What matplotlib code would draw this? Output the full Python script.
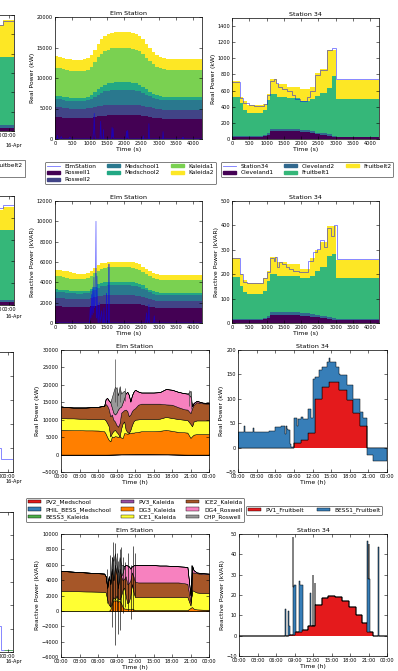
import numpy as np
import matplotlib
matplotlib.use("Agg")
import matplotlib.pyplot as plt
from matplotlib.lines import Line2D
from matplotlib.patches import Patch, Rectangle

W, H = 398, 671

# ---------------- feeder data, time in seconds (100 s bins) ----------------
sec_edges = np.arange(0, 4400, 100)

roswell1_p = [3600, 3550, 3500, 3450, 3400, 3400, 3400, 3400, 3400, 3450,
              3500, 3600, 3700, 3800, 3850, 3900, 3950, 4000, 4000, 4000,
              4000, 4000, 4000, 3950, 3900, 3800, 3700, 3600, 3500, 3420,
              3380, 3350, 3350, 3350, 3350, 3350, 3350, 3350, 3350, 3350,
              3350, 3350, 3350]
roswell2_p = [1650, 1650, 1620, 1600, 1580, 1570, 1560, 1560, 1560, 1570,
              1600, 1620, 1640, 1650, 1650, 1650, 1650, 1650, 1650, 1650,
              1650, 1650, 1650, 1650, 1640, 1620, 1600, 1570, 1540, 1510,
              1480, 1460, 1450, 1450, 1450, 1450, 1450, 1450, 1450, 1450,
              1450, 1450, 1450]
medschool1_p = [1300, 1300, 1280, 1260, 1250, 1250, 1250, 1260, 1280, 1320,
                1450, 1700, 1950, 2150, 2300, 2400, 2450, 2450, 2450, 2450,
                2450, 2450, 2400, 2350, 2250, 2100, 1950, 1800, 1700, 1620,
                1570, 1550, 1540, 1540, 1540, 1540, 1540, 1540, 1540, 1540,
                1540, 1540, 1540]
medschool2_p = [550, 550, 540, 530, 520, 520, 520, 530, 540, 560,
                620, 750, 900, 1000, 1100, 1150, 1200, 1200, 1200, 1200,
                1200, 1200, 1180, 1150, 1100, 1000, 900, 800, 700, 620,
                580, 560, 560, 560, 560, 560, 560, 560, 560, 560,
                560, 560, 560]
kaleida1_p = [4540, 4520, 4500, 4480, 4450, 4430, 4420, 4420, 4430, 4450,
              4600, 4900, 5200, 5400, 5500, 5550, 5600, 5600, 5600, 5600,
              5600, 5600, 5580, 5550, 5500, 5400, 5200, 5000, 4800, 4650,
              4550, 4480, 4460, 4460, 4460, 4460, 4460, 4460, 4460, 4460,
              4460, 4460, 4460]
kaleida2_p = [1900, 1900, 1880, 1860, 1850, 1850, 1850, 1850, 1860, 1880,
              1950, 2100, 2250, 2350, 2450, 2500, 2550, 2600, 2600, 2600,
              2600, 2600, 2580, 2550, 2500, 2400, 2300, 2150, 2000, 1900,
              1850, 1820, 1810, 1810, 1810, 1810, 1810, 1810, 1810, 1810,
              1810, 1810, 1810]

roswell1_q = [1640, 1630, 1610, 1590, 1570, 1560, 1550, 1550, 1560, 1580,
              1640, 1720, 1800, 1850, 1880, 1900, 1900, 1900, 1900, 1900,
              1900, 1900, 1890, 1870, 1840, 1780, 1700, 1620, 1550, 1510,
              1490, 1480, 1480, 1480, 1480, 1480, 1480, 1480, 1480, 1480,
              1480, 1480, 1480]
roswell2_q = [830, 830, 820, 810, 800, 790, 780, 780, 780, 790,
              810, 820, 830, 830, 830, 830, 830, 830, 830, 830,
              830, 830, 830, 820, 800, 770, 740, 710, 690, 670,
              660, 660, 660, 660, 660, 660, 660, 660, 660, 660,
              660, 660, 660]
medschool1_q = [590, 590, 580, 570, 560, 560, 560, 560, 570, 590,
                650, 750, 850, 920, 950, 970, 970, 970, 970, 970,
                970, 970, 960, 940, 900, 840, 760, 690, 640, 610,
                595, 590, 590, 590, 590, 590, 590, 590, 590, 590,
                590, 590, 590]
medschool2_q = [240, 240, 235, 230, 225, 220, 220, 220, 225, 235,
                260, 290, 320, 340, 350, 350, 350, 350, 350, 350,
                350, 350, 345, 340, 330, 310, 290, 270, 250, 240,
                235, 230, 230, 230, 230, 230, 230, 230, 230, 230,
                230, 230, 230]
kaleida1_q = [1300, 1290, 1270, 1250, 1220, 1200, 1190, 1180, 1180, 1190,
              1230, 1300, 1360, 1390, 1400, 1410, 1410, 1410, 1410, 1410,
              1410, 1410, 1400, 1390, 1370, 1340, 1310, 1290, 1270, 1260,
              1250, 1250, 1250, 1250, 1250, 1250, 1250, 1250, 1250, 1250,
              1250, 1250, 1250]
kaleida2_q = [660, 655, 640, 620, 600, 580, 560, 550, 550, 555,
              570, 560, 540, 530, 530, 530, 530, 530, 530, 530,
              530, 530, 530, 530, 520, 510, 500, 495, 490, 490,
              490, 490, 490, 490, 490, 490, 490, 490, 490, 490,
              490, 490, 490]

elm_p_line_t = [0, 50, 70, 90, 150, 180, 200, 230, 400, 430,
                460, 1090, 1120, 1136, 1150, 1170, 1300, 1320, 1335, 1350,
                1390, 1400, 1410, 1630, 1650, 1665, 1680, 1695, 1710, 2050,
                2070, 2085, 2100, 2115, 2130, 2540, 2555, 2570, 2700, 2715,
                2730, 3110, 3125, 3140, 3690, 3700, 3710, 4250]
elm_p_line = [0, 0, 600, 0, 0, 400, 100, 0, 0, 300,
              0, 0, 1500, 4200, 800, 0, 0, 2900, 600, 0,
              0, 1500, 0, 0, 1900, 300, 1700, 200, 0, 0,
              1300, 200, 1400, 300, 0, 0, 500, 0, 0, 2500,
              0, 0, 1200, 0, 0, 300, 0, 0]
elm_q_line_t = [0, 1000, 1020, 1040, 1060, 1075, 1090, 1110, 1125, 1140,
                1160, 1185, 1200, 1215, 1230, 1250, 1280, 1300, 1350, 1370,
                1400, 1415, 1430, 1480, 1490, 1500, 1550, 1560, 1570, 2620,
                2650, 2670, 2700, 2715, 2730, 2850, 2870, 2890, 4250]
elm_q_line = [0, 0, 1500, 500, 2800, 800, 3500, 1000, 4500, 1500,
              2000, 10000, 500, 4600, 1000, 0, 2000, 0, 1200, 0,
              0, 1500, 0, 0, 2900, 0, 0, 5800, 0, 0,
              1000, 0, 300, 1800, 0, 0, 700, 0, 0]

s34_edges = [0, 220, 316, 430, 900, 1007, 1103, 1300, 1580, 1966, 2254, 2398,
             2541, 2733, 2877, 3021, 4300]
cleveland1_p = [25, 25, 25, 27, 35, 55, 95, 95, 95, 90, 75, 60, 50, 40, 30, 22]
cleveland2_p = [10, 10, 10, 8, 10, 15, 25, 25, 25, 25, 20, 20, 20, 20, 10, 8]
fruitbelt1_p = [485, 410, 325, 285, 315, 415, 440, 400, 385, 355, 400, 447, 500, 570, 740, 470]
fruitbelt2_p = [205, 75, 110, 105, 80, 75, 180, 160, 135, 145, 145, 293, 300, 470, 320, 230]
cleveland1_q = [13, 13, 13, 13, 15, 22, 31, 31, 31, 30, 26, 24, 20, 16, 14, 13]
cleveland2_q = [5, 5, 5, 5, 5, 8, 14, 14, 14, 12, 9, 7, 8, 9, 6, 3]
fruitbelt1_q = [172, 132, 108, 102, 113, 144, 155, 147, 147, 143, 159, 184, 203, 251, 263, 167]
fruitbelt2_q = [75, 50, 51, 43, 52, 41, 70, 58, 48, 37, 72, 85, 99, 122, 115, 75]

s34_p_line_edges = [0, 220, 316, 480, 623, 911, 1007, 1103, 1218, 1275, 1343, 1439,
                    1582, 1726, 1822, 1966, 2062, 2158, 2254, 2398, 2541, 2733,
                    2877, 3021, 4300]
s34_p_line = [710, 510, 450, 420, 415, 440, 540, 720, 740, 700, 640, 620,
              600, 540, 500, 470, 470, 520, 600, 790, 850, 1100, 1130, 740]
s34_q_line_edges = [0, 220, 316, 430, 900, 1000, 1100, 1200, 1250, 1300, 1350,
                    1450, 1550, 1650, 1750, 1950, 2200, 2350, 2450, 2550, 2650,
                    2750, 2850, 2950, 3050, 4300]
s34_q_line = [268, 200, 170, 163, 185, 210, 268, 255, 272, 230, 248, 240,
              230, 222, 215, 210, 255, 290, 305, 340, 310, 390, 355, 400, 262]

# ---------------- generator data, time of day in hours ----------------
hours = [0, 1, 2, 3, 4, 5, 6, 7, 7.25, 7.5, 7.75, 8, 8.25, 8.5, 8.75, 9, 9.25,
         9.5, 9.75, 10, 10.25, 10.5, 10.75, 11, 11.25, 11.5, 11.75, 12, 12.5,
         13, 14, 15, 16, 17, 18, 19, 20, 20.5, 21, 21.25, 21.5, 22, 23, 24]

pv2_p = [0, 0, 0, 0, 0, 0, 0, 0, 0, 5, 10, 20, 30, 40, 50, 60, 70, 80, 90, 100,
         110, 120, 120, 130, 130, 140, 140, 150, 150, 150, 150, 140, 120, 100,
         70, 40, 10, 0, 0, 0, 0, 0, 0, 0]
phil_bess_p = [0, 0, 0, 0, 0, 0, 0, 0, 0, 0, 0, 0, 0, 0, 0, 0, 0, 0, 0, 0,
               0, 0, 0, 0, 0, 0, 0, 0, 0, 0, 0, 0, 0, 0, 0, 0, 0, 0, 0, 0,
               0, 0, 0, 0]
bess3_p = [0, 0, 0, 0, 0, 0, 0, 0, 0, 0, 0, 0, 0, 0, 0, 0, 0, 0, 0, 0,
           0, 0, 0, 0, 0, 0, 0, 0, 0, 0, 0, 0, 0, 0, 0, 0, 0, 0, 0, 0,
           0, 0, 0, 0]
pv3_p = [0, 0, 0, 0, 0, 0, 0, 0, 0, 0, 5, 10, 15, 20, 25, 30, 35, 40, 45, 50,
         55, 60, 60, 65, 65, 70, 70, 75, 75, 75, 75, 70, 60, 50, 35, 20, 5, 0,
         0, 0, 0, 0, 0, 0]
dg3_p_top = [7100, 7050, 7000, 7000, 6950, 6950, 6900, 6700, 6000, 5000, 4200,
             3800, 5200, 5000, 5300, 5200, 5100, 5200, 4900, 4800, 6200, 6100,
             6000, 6100, 6200, 6300, 6300, 6400, 6500, 6700, 6700, 6700, 6800,
             7100, 6800, 6500, 6400, 6300, 4800, 5300, 5700, 5900, 5900, 5900]
ice1_p_top = [10500, 10400, 10400, 10300, 10300, 10200, 10200, 10200, 9800, 9000,
              8100, 5200, 6200, 6800, 7100, 6500, 6000, 5200, 7500, 9000, 9500,
              7100, 6500, 6200, 7100, 8500, 9500, 10000, 10100, 10200, 10200,
              10200, 10300, 10800, 10500, 10200, 10000, 9900, 8800, 8100, 9500,
              9800, 9800, 9800]
ice2_p_top = [13800, 13600, 13500, 13500, 13500, 13600, 13700, 14000, 14500, 14000,
              13000, 11000, 11500, 10000, 9500, 8500, 8000, 9000, 12000, 12400,
              12800, 12900, 12500, 11000, 11500, 12500, 13000, 13300, 14300, 14600,
              14600, 14600, 14600, 14400, 14300, 13600, 13000, 12900, 11900, 13300,
              14300, 15000, 14700, 14600]
dg4_p_top = [13800, 13600, 13500, 13500, 13500, 13600, 13700, 14000, 16000, 16200,
             15500, 15000, 13500, 12000, 11500, 12000, 13000, 13500, 13800, 15000,
             16200, 17600, 18000, 17100, 15200, 17000, 18000, 18600, 18100, 17800,
             17800, 17800, 17900, 18800, 18600, 18000, 17600, 17500, 16700, 13800,
             14800, 15400, 14900, 14800]
chp_p_top = [13800, 13600, 13500, 13500, 13500, 13600, 13700, 14000, 16000, 16200,
             15500, 15000, 16500, 18000, 19500, 19000, 17000, 19500, 17500, 18000,
             18300, 17600, 18000, 17100, 15200, 17000, 18000, 18600, 18100, 17800,
             17800, 17800, 17900, 18800, 18600, 18000, 17600, 17500, 18300, 13800,
             14800, 15400, 14900, 14800]
elm_p_spike_h = [8.7, 9.05, 9.6, 10.3, 20.8, 21.0]
elm_p_spike_lo = [15000, 14000, 15000, 15500, 14000, 13000]
elm_p_spike_hi = [27500, 19500, 19800, 19000, 18500, 18300]

pv2_q = [0, 0, 0, 0, 0, 0, 0, 0, 0, 0, 0, 0, 0, 0, 0, 0, 0, 0, 0, 0,
         0, 0, 0, 0, 0, 0, 0, 0, 0, 0, 0, 0, 0, 0, 0, 0, 0, 0, 0, 0,
         0, 0, 0, 0]
phil_bess_q = pv2_q
bess3_q = pv2_q
pv3_q = pv2_q
dg3_q_top = [0, 0, 0, 0, 0, 0, 0, 0, 0, 0, 0, 200, 1000, 1400, 1300, 1400, 1200,
             1300, 1000, 500, 300, 300, 250, 250, 200, 300, 200, 100, 100, 100,
             100, 100, 100, 100, 100, 100, 100, 100, 400, 500, 300, 200, 150, 150]
ice1_q_top = [2600, 2580, 2560, 2550, 2530, 2520, 2500, 2480, 2400, 1500, 800,
              600, 1400, 1800, 1500, 2000, 1600, 1500, 2000, 2800, 3000, 2000,
              1000, 1200, 2000, 3500, 2500, 1800, 1800, 1800, 1800, 1800, 1800,
              1800, 1800, 1800, 1800, 1800, 700, 2700, 2600, 2400, 2300, 2300]
ice2_q_top = [5200, 5150, 5100, 5050, 5000, 4950, 4900, 4850, 4500, 3000, 4500,
              3500, 5500, 4000, 6000, 5000, 3000, 5500, 4500, 4000, 4200, 4500,
              3500, 3600, 4000, 5000, 4500, 3800, 3700, 3700, 3700, 3700, 3700,
              3700, 3700, 3700, 3600, 3500, 1200, 5000, 5000, 4900, 4800, 4800]
dg4_q_top = [5200, 5150, 5100, 5050, 5000, 4950, 4900, 4850, 4500, 3000, 4500,
             3500, 5500, 4000, 6000, 5000, 3000, 5500, 4500, 5000, 5800, 6000,
             5900, 5800, 5500, 5800, 5900, 6000, 6000, 6000, 6000, 5950, 5900,
             5900, 5850, 5800, 5750, 5700, 2000, 5900, 5300, 5000, 4900, 4850]
chp_q_top = [5200, 5150, 5100, 5050, 5000, 4950, 4900, 4850, 4500, 3000, 4500,
             3500, 7000, 6500, 7500, 6000, 5000, 7000, 6000, 6000, 5800, 6000,
             5900, 5800, 5500, 5800, 5900, 6000, 6000, 6000, 6000, 5950, 5900,
             5900, 5850, 5800, 5750, 5700, 2000, 5900, 5300, 5000, 4900, 4850]
elm_q_spike_h = [7.45, 7.9, 8.3, 8.45, 8.7, 9.05, 9.3, 9.6, 9.75, 10.0, 10.3,
                 10.8, 11.4, 11.7, 12.05, 21.1, 21.3]
elm_q_spike_lo = [1000, 500, -2100, 0, -4500, 0, -3000, -2500, 0, -300, 500,
                  0, -1000, 0, 2000, 1000, 2000]
elm_q_spike_hi = [5500, 7300, 7000, 9000, 8800, 7500, 6500, 8000, 8300, 7000,
                  6400, 7500, 6000, 8500, 7500, 6000, 6000]

s34h_p_edges = [0, 1.0, 1.2, 2.4, 2.5, 5.0, 6.0, 7.0, 7.5, 7.7, 7.9, 8.0, 8.4,
                8.6, 9.0, 9.5, 9.7, 10.2, 10.5, 11.3, 11.8, 12.0, 12.4, 13.0,
                13.5, 14.4, 14.6, 14.8, 15.8, 16.2, 16.4, 17.5, 18.6, 19.7,
                20.2, 20.8, 21.7, 24]
pv1_p = [0, 0, 0, 0, 0, 0, 0, 0, 0, 0, 0, 0, 0, 0, 10, 10, 10, 15, 15, 30, 30,
         30, 100, 100, 125, 125, 134, 134, 134, 119, 119, 98, 71, 44, 44, 0, -1]
bess1_p_top = [32, 45, 31, 40, 31, 33, 42, 45, 28, 44, 38, 36, 8, 2, 60, 45, 58,
               62, 58, 80, 60, 140, 145, 160, 165, 175, 183, 175, 165, 150, 148,
               128, 100, 72, 60, -15, -27]

s34h_q_edges = [0, 7.5, 7.65, 8.0, 8.1, 8.2, 8.7, 8.8, 8.9, 9.0, 9.3, 9.8, 9.95,
                10.2, 10.3, 11.2, 11.5, 11.65, 11.95, 12.05, 12.3, 12.4, 13.4,
                14.5, 15.6, 16.7, 17.8, 18.9, 20.0, 20.8, 20.9, 21.0, 21.1,
                21.2, 21.3, 21.7, 22.6, 22.75, 24]
pv1_q = [0, 0, 0, 0, 0.5, 0.5, 0.5, 0.5, 0.5, 2, 2, 2, 2, 3, 3, 5, 5, 5, 5, 5,
         15, 15, 18.5, 19.5, 19, 17, 14, 10, 6, 2, 2, 2, 2, 2, 2, 0, 0, 0]
bess1_q_top = [0, 13, 0, 12, 5, 0.5, 48.5, 24, 25, 25, 2, 27, 25, 25, 3, 5, 21,
               5, 30, 5, 26, 15, 18.5, 19.5, 19, 17, 14, 10, 6, 46.5, 28, 45,
               28, 2, 2, 0, 43.5, 0]

# slivers of the neighbouring column (cut off by the crop)
left_ticks = [40, 44, 48]
left_ticklabels = ["16:00", "20:00", "00:00"]
left1_edges = [36, 46.25, 49.5]
left1_layers = [[30, 30], [32, 32], [700, 700], [335, 387]]
left1_line = [1097, 1138]
left2_edges = [36, 46.25, 49.5]
left2_layers = [[15, 15], [10, 10], [320, 320], [91, 105]]
left2_line = [445, 459]
left3_edges = [36, 45.8, 49.5]
left3_line = [0, -23]
left4_edges = [36, 45.95, 49.5]
left4_line = [1, -9]
left4_green_edges = [46.84, 49.5]
left4_green = [-9]

hour_ticks = [0, 3, 6, 9, 12, 15, 18, 21, 24]
hour_labels = ["00:00", "03:00", "06:00", "09:00", "12:00", "15:00",
               "18:00", "21:00", "00:00"]

# ---------------- style ----------------
plt.rcParams.update({
    "font.family": "DejaVu Sans",
    "font.size": 3.6,
    "axes.linewidth": 0.5,
    "axes.titlesize": 4.6,
    "axes.titlepad": 1.5,
    "axes.labelsize": 4.4,
    "axes.labelpad": 1.1,
    "xtick.direction": "in",
    "ytick.direction": "in",
    "xtick.top": True,
    "ytick.right": True,
    "xtick.major.size": 2.0,
    "ytick.major.size": 2.0,
    "xtick.major.width": 0.4,
    "ytick.major.width": 0.4,
    "xtick.major.pad": 1.2,
    "ytick.major.pad": 1.5,
    "legend.fontsize": 4.2,
})

vir6 = plt.cm.viridis(np.linspace(0, 1, 6))
vir4 = plt.cm.viridis(np.linspace(0, 1, 4))
RED, BLUE, GREEN, PURPLE = "#e41a1c", "#377eb8", "#4daf4a", "#984ea3"
ORANGE, YELLOW, BROWN, PINK, GRAY = "#ff7f00", "#ffff33", "#a65628", "#f781bf", "#999999"
LINE_KW = dict(color="blue", alpha=0.55, lw=0.6)

fig = plt.figure(figsize=(W / 100, H / 100), dpi=100)
fig.patch.set_facecolor("white")


def px_axes(l, t, r, b):
    return fig.add_axes([l / W, 1 - b / H, (r - l) / W, (b - t) / H])


def stack_stairs(ax, edges, layers, colors):
    base = np.zeros(len(layers[0]))
    for vals, c in zip(layers, colors):
        top = base + np.asarray(vals, float)
        ax.stairs(top, edges, baseline=base, fill=True, color=c, lw=0)
        base = top


def stack_tops(ax, x, bottom, tops, colors):
    lo = np.asarray(bottom, float)
    for top, c in zip(tops, colors):
        ax.fill_between(x, lo, top, facecolor=c, edgecolor="k", lw=0.35)
        lo = np.asarray(top, float)


def sec_axis(ax, title, ylabel, ylim, yticks):
    ax.set_xlim(0, 4250)
    ax.set_xticks(np.arange(0, 4001, 500))
    ax.set_ylim(*ylim)
    ax.set_yticks(yticks)
    ax.set_title(title)
    ax.set_ylabel(ylabel)
    ax.set_xlabel("Time (s)")


def hour_axis(ax, title, ylabel, ylim, yticks):
    ax.set_xlim(0, 24)
    ax.set_xticks(hour_ticks)
    ax.set_xticklabels(hour_labels)
    ax.set_ylim(*ylim)
    ax.set_yticks(yticks)
    ax.set_title(title)
    ax.set_ylabel(ylabel)
    ax.set_xlabel("Time (h)")


def fig_legend(handles, labels, x, y, ncol, colspace):
    leg = fig.legend(handles, labels, loc="upper left",
                     bbox_to_anchor=(x / W, 1 - y / H),
                     bbox_transform=fig.transFigure, ncol=ncol,
                     borderaxespad=0, borderpad=0.3, labelspacing=0.3,
                     handlelength=2.2, handleheight=0.5, handletextpad=0.8,
                     columnspacing=colspace, fancybox=True, framealpha=1)
    leg.get_frame().set_edgecolor("0.3")
    leg.get_frame().set_linewidth(0.5)
    return leg


# ---------------- row 1: real power, seconds ----------------
ax = px_axes(55, 17, 202, 139)
stack_stairs(ax, sec_edges, [roswell1_p, roswell2_p, medschool1_p,
                             medschool2_p, kaleida1_p, kaleida2_p], vir6)
ax.plot(elm_p_line_t, elm_p_line, **LINE_KW)
sec_axis(ax, "Elm Station", "Real Power (kW)", (0, 20000), np.arange(0, 20001, 5000))

ax = px_axes(232, 18, 379, 139)
stack_stairs(ax, s34_edges, [cleveland1_p, cleveland2_p, fruitbelt1_p, fruitbelt2_p], vir4)
ax.stairs(s34_p_line, s34_p_line_edges, baseline=None, **LINE_KW)
sec_axis(ax, "Station 34", "Real Power (kW)", (0, 1500), np.arange(0, 1401, 200))

elm_names = ["Roswell1", "Roswell2", "Medschool1", "Medschool2", "Kaleida1", "Kaleida2"]
h = [Line2D([], [], **LINE_KW)] + [Patch(color=c) for c in vir6]
fig_legend(h, ["ElmStation"] + elm_names, 45, 162, 3, 1.9)
s34_names = ["Cleveland1", "Cleveland2", "Fruitbelt1", "Fruitbelt2"]
h = [Line2D([], [], **LINE_KW)] + [Patch(color=c) for c in vir4]
fig_legend(h, ["Station34"] + s34_names, 221, 162, 3, 1.9)

# ---------------- row 2: reactive power, seconds ----------------
ax = px_axes(55, 201, 202, 323)
stack_stairs(ax, sec_edges, [roswell1_q, roswell2_q, medschool1_q,
                             medschool2_q, kaleida1_q, kaleida2_q], vir6)
ax.plot(elm_q_line_t, elm_q_line, **LINE_KW)
sec_axis(ax, "Elm Station", "Reactive Power (kVAR)", (0, 12000), np.arange(0, 12001, 2000))

ax = px_axes(232, 201, 379, 323)
stack_stairs(ax, s34_edges, [cleveland1_q, cleveland2_q, fruitbelt1_q, fruitbelt2_q], vir4)
ax.stairs(s34_q_line, s34_q_line_edges, baseline=None, **LINE_KW)
sec_axis(ax, "Station 34", "Reactive Power (kVAR)", (0, 500), np.arange(0, 501, 100))

# ---------------- row 3: real power, hours ----------------
gen_colors = [RED, BLUE, GREEN, PURPLE, ORANGE, YELLOW, BROWN, PINK, GRAY]
gen_names = ["PV2_Medschool", "PHIL_BESS_Medschool", "BESS3_Kaleida",
             "PV3_Kaleida", "DG3_Kaleida", "ICE1_Kaleida", "ICE2_Kaleida",
             "DG4_Roswell", "CHP_Roswell"]

ax = px_axes(61, 350, 209, 472)
s1 = np.asarray(pv2_p, float)
s2 = s1 + phil_bess_p
s3 = s2 + bess3_p
s4 = s3 + pv3_p
stack_tops(ax, hours, np.zeros(len(hours)), [s1, s2, s3, s4], gen_colors[:4])
stack_tops(ax, hours, s4, [dg3_p_top, ice1_p_top, ice2_p_top, dg4_p_top, chp_p_top],
           gen_colors[4:])
ax.vlines(elm_p_spike_h, elm_p_spike_lo, elm_p_spike_hi, color="0.3", lw=0.5)
hour_axis(ax, "Elm Station", "Real Power (kW)", (-5000, 30000), np.arange(-5000, 30001, 5000))

ax = px_axes(238, 350, 387, 472)
ax.stairs(pv1_p, s34h_p_edges, baseline=0, fill=True, facecolor=RED, edgecolor="k", lw=0.35)
ax.stairs(bess1_p_top, s34h_p_edges, baseline=pv1_p, fill=True, facecolor=BLUE,
          edgecolor="k", lw=0.35)
hour_axis(ax, "Station 34", "Real Power (kW)", (-50, 200), np.arange(-50, 201, 50))

h = [Patch(facecolor=c, edgecolor="k", lw=0.3) for c in gen_colors]
fig_legend(h, gen_names, 26, 498, 3, 1.7)
h = [Patch(facecolor=c, edgecolor="k", lw=0.3) for c in (RED, BLUE)]
fig_legend(h, ["PV1_Fruitbelt", "BESS1_Fruitbelt"], 246, 506, 2, 2.2)

# ---------------- row 4: reactive power, hours ----------------
ax = px_axes(61, 534, 209, 657)
q1 = np.asarray(pv2_q, float)
q2 = q1 + phil_bess_q
q3 = q2 + bess3_q
q4 = q3 + pv3_q
stack_tops(ax, hours, np.zeros(len(hours)), [q1, q2, q3, q4], gen_colors[:4])
stack_tops(ax, hours, q4, [dg3_q_top, ice1_q_top, ice2_q_top, dg4_q_top, chp_q_top],
           gen_colors[4:])
ax.vlines(elm_q_spike_h, elm_q_spike_lo, elm_q_spike_hi, color="k", lw=0.45)
hour_axis(ax, "Elm Station", "Reactive Power (kVAR)", (-6000, 10000), np.arange(-6000, 10001, 2000))

ax = px_axes(239, 534, 387, 656)
ax.stairs(pv1_q, s34h_q_edges, baseline=0, fill=True, facecolor=RED, edgecolor="k", lw=0.35)
ax.stairs(bess1_q_top, s34h_q_edges, baseline=pv1_q, fill=True, facecolor=BLUE,
          edgecolor="k", lw=0.35)
hour_axis(ax, "Station 34", "Reactive Power (kVAR)", (-10, 50), np.arange(-10, 51, 10))

# ---------------- cropped neighbour column ----------------
def left_axis(t, b, ylim):
    a = px_axes(-150, t, 14 if b < 330 else 13, b)
    a.set_xlim(1, 49.5)
    a.set_ylim(*ylim)
    a.set_xticks(left_ticks)
    a.set_xticklabels(left_ticklabels)
    return a


ax = left_axis(15, 131, (0, 1200))
stack_stairs(ax, left1_edges, left1_layers, vir4)
ax.stairs(left1_line, left1_edges, baseline=None, **LINE_KW)
ax = left_axis(196, 305, (0, 500))
stack_stairs(ax, left2_edges, left2_layers, vir4)
ax.stairs(left2_line, left2_edges, baseline=None, **LINE_KW)
ax = left_axis(352, 472, (-50, 200))
ax.stairs(left3_line, left3_edges, baseline=None, **LINE_KW)
ax = left_axis(512, 652, (-10, 50))
ax.stairs(left4_line, left4_edges, baseline=None, **LINE_KW)
ax.stairs(left4_green, left4_green_edges, baseline=None, color=GREEN, lw=0.6)

for ypx in (145, 317, 481, 661):
    fig.text(14 / W, 1 - ypx / H, "16-Apr", ha="center", va="center", fontsize=3.6)

fig.add_artist(Rectangle((-10 / W, 1 - 177 / H), 35 / W, 17 / H,
                         transform=fig.transFigure, facecolor="white",
                         edgecolor="0.3", lw=0.5))
fig.text(-5.7 / W, 1 - 165 / H, "Fruitbelt2", ha="left", va="center", fontsize=4.2)

fig.savefig("out.png", dpi=100, facecolor="white")
